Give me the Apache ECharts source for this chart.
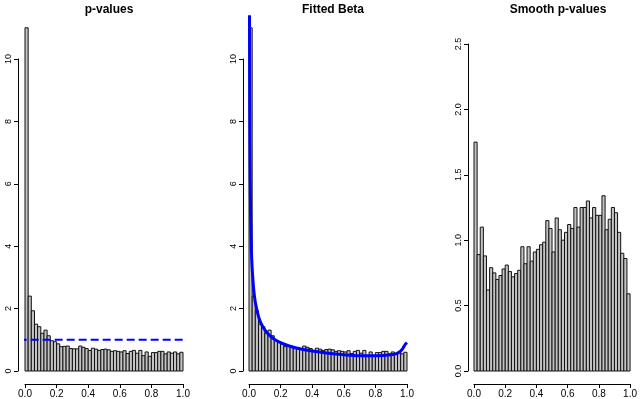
<!DOCTYPE html>
<html>
<head>
<meta charset="utf-8">
<script src="https://cdn.jsdelivr.net/npm/echarts@6/dist/echarts.min.js"></script>
<style>
  html, body { margin: 0; padding: 0; background: #fff; }
  #chart { width: 640px; height: 399px; }
</style>
</head>
<body>
<div id="chart"></div>
<script>
// bin edges, width 0.02
const binEdges = [0, 0.02, 0.04, 0.06, 0.08, 0.1, 0.12, 0.14, 0.16, 0.18, 0.2, 0.22, 0.24, 0.26, 0.28, 0.3,
  0.32, 0.34, 0.36, 0.38, 0.4, 0.42, 0.44, 0.46, 0.48, 0.5, 0.52, 0.54, 0.56, 0.58, 0.6, 0.62, 0.64, 0.66,
  0.68, 0.7, 0.72, 0.74, 0.76, 0.78, 0.8, 0.82, 0.84, 0.86, 0.88, 0.9, 0.92, 0.94, 0.96, 0.98, 1]

// histogram densities
const pDensity = [11.0, 2.40, 1.93, 1.50, 1.42, 1.21, 1.31, 1.13, 0.97, 0.94,
  0.87, 0.78, 0.79, 0.80, 0.72, 0.71, 0.71, 0.80, 0.76, 0.72,
  0.66, 0.73, 0.70, 0.66, 0.69, 0.70, 0.68, 0.63, 0.65, 0.63,
  0.61, 0.65, 0.56, 0.63, 0.66, 0.57, 0.66, 0.49, 0.61, 0.47,
  0.59, 0.59, 0.63, 0.63, 0.55, 0.61, 0.57, 0.61, 0.55, 0.60]

const smoothDensity = [1.75, 0.89, 1.10, 0.88, 0.62, 0.79, 0.75, 0.70, 0.73, 0.78,
  0.81, 0.76, 0.72, 0.745, 0.77, 0.95, 0.82, 0.95, 0.84, 0.91,
  0.93, 0.965, 0.985, 1.15, 1.09, 0.91, 1.17, 1.08, 1.00, 1.06,
  1.12, 1.09, 1.25, 1.10, 1.25, 1.25, 1.30, 1.17, 1.25, 1.19,
  1.19, 1.34, 1.08, 1.16, 1.25, 1.21, 1.06, 0.90, 0.86, 0.59]

// fitted beta density
const betaX = [0.003, 0.006, 0.01, 0.015, 0.02, 0.03, 0.04, 0.055, 0.07, 0.085, 0.1, 0.13, 0.16, 0.2,
  0.25, 0.3, 0.4, 0.5, 0.6, 0.7, 0.8, 0.85, 0.9, 0.93, 0.95, 0.97, 0.98, 0.99, 1.0]
const betaY = [11.4, 7.2, 5.1, 3.9, 3.3, 2.6, 2.2, 1.85, 1.6, 1.44, 1.32, 1.14, 1.02, 0.91,
  0.81, 0.74, 0.64, 0.57, 0.52, 0.49, 0.49, 0.50, 0.52, 0.55, 0.60, 0.70, 0.78, 0.86, 0.91]

// reference line y = 1
const nullX = [-0.04, 1.04]
const nullY = [1, 1]

const titles = ['p-values', 'Fitted Beta', 'Smooth p-values']

const chart = echarts.init(document.getElementById('chart'), null, { renderer: 'canvas' })

function histData(vals) {
  return vals.map((v, i) => [binEdges[i], binEdges[i + 1], v])
}

function histItem(params, api) {
  const p0 = api.coord([api.value(0), api.value(2)])
  const p1 = api.coord([api.value(1), 0])
  return {
    type: 'rect',
    shape: { x: p0[0], y: p0[1], width: p1[0] - p0[0], height: p1[1] - p0[1] },
    style: { fill: '#c4c4c4', stroke: '#111', lineWidth: 1 }
  }
}

const font = 'Liberation Sans, Arial, sans-serif'

function xAxisFor(idx) {
  return {
    gridIndex: idx, type: 'value', min: 0, max: 1, interval: 0.2, offset: 13,
    axisLine: { show: true, onZero: false, lineStyle: { color: '#000', width: 1 } },
    axisTick: { show: true, length: 4, lineStyle: { color: '#000' } },
    axisLabel: { color: '#000', fontSize: 10, fontFamily: font, margin: 5, formatter: v => v.toFixed(1) },
    splitLine: { show: false }
  }
}

function yAxisFor(idx, max, interval, dec, off) {
  return {
    gridIndex: idx, type: 'value', min: 0, max, interval, offset: off,
    axisLine: { show: true, onZero: false, lineStyle: { color: '#000', width: 1 } },
    axisTick: { show: true, length: 4, lineStyle: { color: '#000' } },
    axisLabel: { color: '#000', fontSize: 9, fontFamily: font, rotate: 90, margin: 5,
      formatter: v => v.toFixed(dec) },
    splitLine: { show: false }
  }
}

const option = {
  backgroundColor: '#fff',
  animation: false,
  title: titles.map((t, i) => ({
    text: t, left: [104, 328, 553][i], top: -1, textAlign: 'center',
    textStyle: { fontSize: 12, fontWeight: 'bold', fontFamily: font, color: '#000' }
  })),
  grid: [
    { left: 25, top: 59, width: 158, height: 315 },
    { left: 249, top: 59, width: 158, height: 315 },
    { left: 474, top: 44, width: 158, height: 330 }
  ],
  xAxis: [xAxisFor(0), xAxisFor(1), xAxisFor(2)],
  yAxis: [
    yAxisFor(0, 10, 2, 0, 7),
    yAxisFor(1, 10, 2, 0, 6),
    yAxisFor(2, 2.5, 0.5, 1, 6)
  ],
  series: [
    { type: 'custom', xAxisIndex: 0, yAxisIndex: 0, renderItem: histItem, data: histData(pDensity), clip: false },
    { type: 'line', xAxisIndex: 0, yAxisIndex: 0, data: nullX.map((x, i) => [x, nullY[i]]),
      showSymbol: false, clip: false, lineStyle: { color: '#0000ff', width: 2, type: [8, 4] } },
    { type: 'custom', xAxisIndex: 1, yAxisIndex: 1, renderItem: histItem, data: histData(pDensity), clip: false },
    { type: 'line', xAxisIndex: 1, yAxisIndex: 1, data: betaX.map((x, i) => [x, betaY[i]]),
      showSymbol: false, smooth: 0.3, clip: false, lineStyle: { color: '#0000ff', width: 3 } },
    { type: 'custom', xAxisIndex: 2, yAxisIndex: 2, renderItem: histItem, data: histData(smoothDensity), clip: false }
  ]
}

chart.setOption(option)
</script>
</body>
</html>
